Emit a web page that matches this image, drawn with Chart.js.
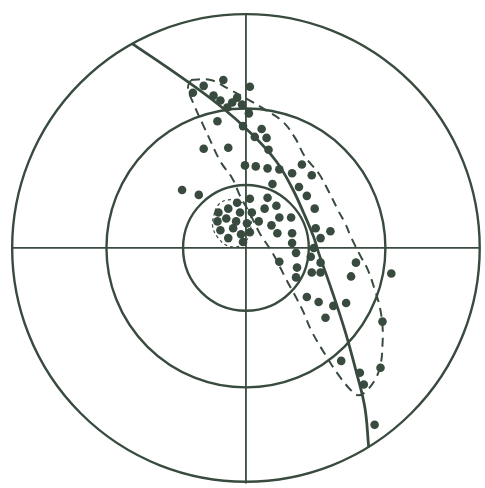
<!DOCTYPE html>
<html><head><meta charset="utf-8">
<script src="https://cdn.jsdelivr.net/npm/chart.js@4/dist/chart.umd.min.js"></script>
<style>html,body{margin:0;padding:0;background:#ffffff;}canvas{display:block;}</style>
</head><body>
<canvas id="c" width="485" height="488"></canvas>
<script>
// Ring radii (outer circle = 238 units)
const ringRadii = [64, 142, 238];
// Crosshair axes
const axisVertical = [[0, 238], [0, -240]];
const axisHorizontal = [[-238, 0], [238, 0]];
// Solid great-circle arc
const greatCircle = [[-116,208],[-79,183],[-28,146],[7,115],[31,88],[47,61],[59,35],[69,11],[74,-5],[87,-42],[101,-85],[112,-125],[121,-162],[125,-203]];
// Dashed envelope
const envelope = [[-56,171],[-36,171],[-18,162],[4,150],[19,141],[37,129],[50,112],[60,93],[74,76],[84,58],[94,38],[101,25],[107,11],[117,-9],[124,-22],[131,-42],[136,-59],[139,-79],[139,-99],[137,-119],[131,-135],[121,-147],[114,-150],[107,-145],[94,-129],[81,-109],[67,-85],[57,-62],[41,-32],[27,-5],[14,15],[4,35],[-6,53],[-14,71],[-26,88],[-38,113],[-44,126],[-53,146],[-59,163],[-56,171]];
// Small dashed contour around the central cluster
const clusterContour = [[-32,36],[-34,23],[-29,11],[-18,2],[-4,3],[4,16],[4,36],[-4,46],[-18,49],[-28,44],[-32,36]];
// Poles (x, y)
const polesX = [-23,4,-43,-54,-33,-26,-9,-14,-19,-4,-29,3,-3,16,9,21,-43,-18,23,-1,10,22,34,47,57,67,27,54,62,70,-65,-48,4,22,31,19,34,46,26,32,47,47,51,71,86,76,69,34,66,76,52,51,67,76,112,107,148,62,74,102,89,81,139,97,116,120,137,131,
  -28,-18,-6,-29,-20,-10,-26,-13,-5,1,6,4,-3,-18,-9,13];
const polesY = [171,164,165,158,155,150,153,148,143,146,129,137,124,121,113,112,101,102,100,84,83,81,80,76,85,74,65,62,53,40,59,54,50,51,43,40,31,31,23,15,15,5,-5,20,17,10,0,-14,-9,-15,-20,-30,-25,-25,-15,-29,-26,-50,-55,-56,-59,-71,-75,-115,-127,-139,-122,-180,
  36,40,36,27,30,27,18,20,14,25,36,16,6,10,46,27];

const INK = '#384b3e';
const toXY = a => a.map(p => ({x: p[0], y: p[1]}));
const poles = polesX.map((x, i) => ({x, y: polesY[i]}));

const ringsPlugin = {
  id: 'rings',
  beforeDatasetsDraw(chart) {
    const {ctx, scales: {x, y}} = chart;
    const cx = x.getPixelForValue(0), cy = y.getPixelForValue(0);
    ctx.save();
    ctx.strokeStyle = INK;
    ctx.lineWidth = 2.4;
    ringRadii.forEach(r => {
      const rp = x.getPixelForValue(r) - cx;
      ctx.beginPath();
      ctx.arc(cx, cy, rp, 0, Math.PI * 2);
      ctx.stroke();
    });
    ctx.restore();
  }
};

new Chart(document.getElementById('c'), {
  type: 'scatter',
  data: {
    datasets: [
      {data: toXY(axisVertical), showLine: true, borderColor: INK, borderWidth: 1.8, pointRadius: 0},
      {data: toXY(axisHorizontal), showLine: true, borderColor: INK, borderWidth: 1.8, pointRadius: 0},
      {data: toXY(clusterContour), showLine: true, borderColor: INK, borderWidth: 1.2, borderDash: [3, 3], tension: 0.4, pointRadius: 0},
      {data: toXY(envelope), showLine: true, borderColor: INK, borderWidth: 2, borderDash: [9, 6], tension: 0.4, pointRadius: 0},
      {data: toXY(greatCircle), showLine: true, borderColor: INK, borderWidth: 2.8, tension: 0.4, pointRadius: 0},
      {data: poles, showLine: false, pointRadius: 4.3, pointBackgroundColor: INK, pointBorderWidth: 0, borderColor: INK}
    ]
  },
  options: {
    responsive: false,
    animation: false,
    devicePixelRatio: 1,
    layout: {padding: 0},
    plugins: {legend: {display: false}, tooltip: {enabled: false}},
    scales: {
      x: {type: 'linear', min: -246, max: 239, display: false},
      y: {type: 'linear', min: -240, max: 248, display: false}
    }
  },
  plugins: [ringsPlugin]
});
</script>
</body></html>
